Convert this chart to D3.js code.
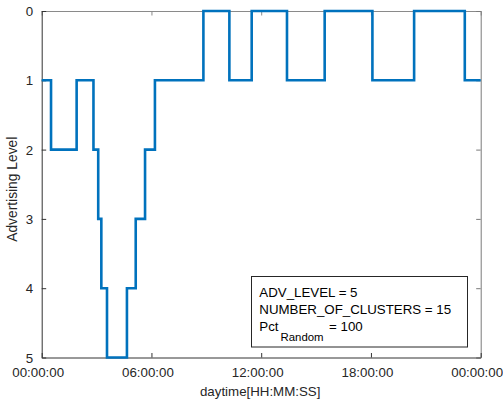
<!DOCTYPE html>
<html>
<head>
<meta charset="utf-8">
<script src="https://cdn.jsdelivr.net/npm/d3@7/dist/d3.min.js"></script>
<style>
  html, body { margin: 0; padding: 0; background: #fff; }
  svg { display: block; font-family: "Liberation Sans", Arial, Helvetica, sans-serif; }
</style>
</head>
<body>
<svg id="chart" width="503" height="402"></svg>
<script>
// Advertising level over one day: hour at which each level starts
const startHours = [0, 0.51, 1.91, 2.83, 3.09, 3.26, 3.57, 4.66, 5.14, 5.65, 6.19,
                    8.84, 10.26, 11.48, 13.41, 15.47, 18.08, 20.36, 23.13, 24];
const levels     = [1, 2, 1, 2, 3, 4, 5, 4, 3, 2, 1,
                    0, 1, 0, 1, 0, 1, 0, 1, 1];
const yTicks = [0, 1, 2, 3, 4, 5];
const xTickHours = [0, 6, 12, 18, 24];
const legendLines = ["ADV_LEVEL = 5", "NUMBER_OF_CLUSTERS = 15"];
const pctLabel = { base: "Pct", sub: "Random", rest: "= 100" };

const day0 = new Date(2000, 0, 1, 0, 0, 0);
const toDate = h => new Date(day0.getTime() + h * 3600 * 1000);

const svg = d3.select("#chart");
const plotL = 41.7, plotR = 480.7, plotT = 11, plotB = 357.5;

const x = d3.scaleTime().domain([toDate(0), toDate(24)]).range([plotL, plotR]);
const y = d3.scaleLinear().domain([0, 5]).range([plotT, plotB]);

const fmt = d3.timeFormat("%H:%M:%S");
const xTickVals = xTickHours.map(toDate);
const tickLen = 4.5;

// box edges (top/right) with inward ticks
svg.append("g")
  .attr("transform", `translate(0,${plotT})`)
  .call(d3.axisTop(x).tickValues(xTickVals).tickSizeInner(-tickLen).tickSizeOuter(0).tickFormat(""))
  .call(g => g.selectAll("path,line").attr("stroke", "#8a8a8a"));
svg.append("g")
  .attr("transform", `translate(${plotR},0)`)
  .call(d3.axisRight(y).tickValues(yTicks).tickSizeInner(-tickLen).tickSizeOuter(0).tickFormat(""))
  .call(g => g.selectAll("path,line").attr("stroke", "#7a7a7a"));

// bottom axis
const gx = svg.append("g")
  .attr("transform", `translate(0,${plotB})`)
  .call(d3.axisBottom(x).tickValues(xTickVals).tickSizeInner(-tickLen).tickSizeOuter(0).tickFormat(fmt));
gx.selectAll("path,line").attr("stroke", "#333");
gx.selectAll("text")
  .attr("y", 19.5).attr("dy", null).attr("x", -4)
  .attr("fill", "#262626").style("font-size", "13.3px");

// left axis
const gy = svg.append("g")
  .attr("transform", `translate(${plotL},0)`)
  .call(d3.axisLeft(y).tickValues(yTicks).tickSizeInner(-tickLen).tickSizeOuter(0).tickFormat(d3.format("d")));
gy.selectAll("path,line").attr("stroke", "#333");
gy.selectAll("text")
  .attr("x", -8.5).attr("dy", "0.35em")
  .attr("fill", "#262626").style("font-size", "13.3px");

// axis titles
svg.append("text")
  .attr("x", (plotL + plotR) / 2 - 1).attr("y", 396)
  .attr("text-anchor", "middle").attr("fill", "#262626").style("font-size", "13.3px")
  .text("daytime[HH:MM:SS]");
svg.append("text")
  .attr("transform", `translate(17,${(plotT + plotB) / 2 + 5}) rotate(-90)`)
  .attr("text-anchor", "middle").attr("fill", "#262626").style("font-size", "13.8px")
  .text("Advertising Level");

// step line
const pts = startHours.map((h, i) => ({ t: toDate(h), v: levels[i] }));
const line = d3.line().x(d => x(d.t)).y(d => y(d.v)).curve(d3.curveStepAfter);
svg.append("path")
  .datum(pts)
  .attr("d", line)
  .attr("fill", "none")
  .attr("stroke", "#0072BD")
  .attr("stroke-width", 2.6)
  .attr("stroke-linejoin", "miter");

// annotation box
const box = svg.append("g");
box.append("rect")
  .attr("x", 251.5).attr("y", 276.5).attr("width", 216).attr("height", 70.5)
  .attr("fill", "#fff").attr("stroke", "#262626").attr("stroke-width", 1);
const tx = 259.3;
legendLines.forEach((s, i) => {
  box.append("text")
    .attr("x", tx).attr("y", 297 + i * 17)
    .attr("fill", "#000").style("font-size", "13.3px")
    .text(s);
});
// third line: Pct with a subscript, then the value
const baseY = 330.7;
const tBase = box.append("text")
  .attr("x", tx).attr("y", baseY)
  .attr("fill", "#000").style("font-size", "13.3px")
  .text(pctLabel.base);
const subX = tx + tBase.node().getComputedTextLength() + 2;
const tSub = box.append("text")
  .attr("x", subX).attr("y", baseY + 10)
  .attr("fill", "#000").style("font-size", "11.4px")
  .text(pctLabel.sub);
box.append("text")
  .attr("x", subX + tSub.node().getComputedTextLength() + 5.5).attr("y", baseY)
  .attr("fill", "#000").style("font-size", "13.3px")
  .text(pctLabel.rest);
</script>
</body>
</html>
